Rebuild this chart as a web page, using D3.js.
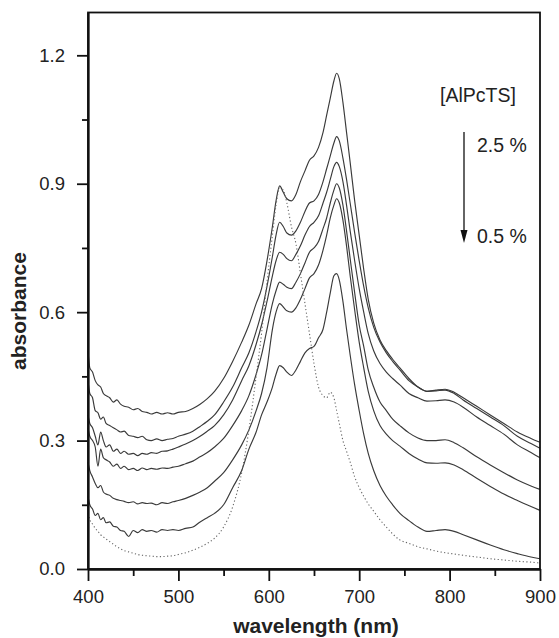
<!DOCTYPE html>
<html>
<head>
<meta charset="utf-8">
<script src="https://cdnjs.cloudflare.com/ajax/libs/d3/7.8.5/d3.min.js"></script>
<style>
  body { margin: 0; background: #fff; }
  #chart { width: 559px; height: 638px; }
  text { font-family: "Liberation Sans", Arial, sans-serif; fill: #222; }
</style>
</head>
<body>
<div id="chart"></div>
<script>
// wavelength grid (nm), shared by all spectra
var wavelength = [400,402,405,408,411,414,417,420,424,428,432,436,440,445,450,455,460,465,470,476,482,488,494,500,
  508,516,524,532,540,550,560,570,578,586,592,598,604,608,612,616,620,625,630,635,640,645,650,655,660,
  664,668,672,675,678,682,686,690,695,700,705,710,716,723,730,737,745,755,765,775,785,795,805,815,830,
  845,860,875,890,900];

// absorbance, [AlPcTS] from 2.5 % down to 0.5 %
var abs25 = [0.51,0.47,0.46,0.44,0.43,0.425,0.41,0.405,0.40,0.39,0.395,0.385,0.38,0.378,0.372,0.375,0.368,0.366,0.362,0.366,0.362,0.365,0.362,0.366,
  0.368,0.375,0.385,0.398,0.415,0.445,0.485,0.53,0.57,0.62,0.655,0.72,0.80,0.86,0.895,0.88,0.865,0.86,0.875,0.905,0.93,0.955,0.965,0.985,1.02,
  1.06,1.10,1.14,1.158,1.145,1.09,1.02,0.95,0.86,0.78,0.70,0.63,0.575,0.535,0.51,0.49,0.47,0.445,0.425,0.415,0.418,0.42,0.413,0.40,0.38,
  0.36,0.34,0.32,0.305,0.296];
var abs20 = [0.44,0.41,0.40,0.37,0.365,0.35,0.355,0.34,0.335,0.33,0.325,0.32,0.322,0.312,0.31,0.307,0.31,0.302,0.30,0.304,0.30,0.303,0.305,0.31,
  0.315,0.322,0.333,0.345,0.36,0.39,0.425,0.47,0.505,0.555,0.60,0.66,0.73,0.78,0.81,0.80,0.785,0.78,0.79,0.81,0.835,0.855,0.86,0.875,0.905,
  0.935,0.965,0.995,1.01,1.0,0.96,0.91,0.855,0.785,0.72,0.66,0.61,0.565,0.53,0.505,0.485,0.465,0.44,0.425,0.415,0.416,0.418,0.41,0.395,0.375,
  0.355,0.335,0.31,0.293,0.282];
var abs15 = [0.36,0.34,0.33,0.31,0.29,0.32,0.30,0.285,0.29,0.275,0.28,0.27,0.275,0.268,0.27,0.265,0.27,0.268,0.272,0.27,0.275,0.276,0.28,0.285,
  0.292,0.30,0.31,0.322,0.335,0.36,0.395,0.44,0.475,0.525,0.57,0.625,0.685,0.72,0.74,0.735,0.725,0.72,0.735,0.755,0.78,0.80,0.81,0.825,0.855,
  0.88,0.91,0.94,0.95,0.94,0.905,0.85,0.79,0.72,0.655,0.60,0.55,0.51,0.48,0.46,0.445,0.43,0.41,0.40,0.392,0.393,0.395,0.39,0.378,0.355,
  0.335,0.315,0.29,0.272,0.26];
var abs12 = [0.33,0.31,0.30,0.285,0.24,0.28,0.26,0.255,0.25,0.24,0.245,0.235,0.24,0.232,0.235,0.23,0.236,0.232,0.235,0.233,0.236,0.235,0.238,0.24,
  0.246,0.252,0.262,0.272,0.285,0.305,0.335,0.37,0.405,0.455,0.50,0.56,0.62,0.65,0.67,0.665,0.658,0.655,0.67,0.69,0.715,0.74,0.75,0.765,0.795,
  0.82,0.855,0.885,0.90,0.89,0.85,0.79,0.725,0.645,0.57,0.52,0.465,0.425,0.39,0.37,0.35,0.335,0.318,0.306,0.30,0.30,0.302,0.295,0.283,0.262,
  0.243,0.225,0.208,0.194,0.186];
var abs08 = [0.25,0.23,0.215,0.20,0.19,0.195,0.18,0.175,0.172,0.165,0.162,0.16,0.158,0.155,0.157,0.152,0.155,0.153,0.154,0.15,0.155,0.153,0.157,0.16,
  0.165,0.172,0.18,0.19,0.205,0.225,0.255,0.29,0.325,0.37,0.41,0.47,0.56,0.60,0.62,0.612,0.603,0.60,0.61,0.63,0.655,0.68,0.69,0.71,0.745,
  0.78,0.82,0.85,0.865,0.855,0.815,0.755,0.685,0.605,0.53,0.47,0.415,0.37,0.335,0.315,0.30,0.287,0.27,0.257,0.248,0.247,0.248,0.243,0.232,0.212,
  0.193,0.175,0.16,0.146,0.137];
var abs05 = [0.17,0.15,0.14,0.125,0.13,0.115,0.12,0.108,0.11,0.10,0.098,0.09,0.088,0.076,0.09,0.085,0.092,0.088,0.09,0.086,0.092,0.09,0.092,0.09,
  0.095,0.098,0.11,0.12,0.13,0.15,0.19,0.23,0.28,0.32,0.36,0.39,0.425,0.455,0.475,0.47,0.46,0.452,0.465,0.485,0.505,0.515,0.52,0.54,0.56,
  0.60,0.645,0.685,0.69,0.675,0.625,0.56,0.50,0.43,0.37,0.315,0.27,0.23,0.195,0.17,0.15,0.13,0.113,0.098,0.088,0.09,0.092,0.088,0.08,0.068,
  0.056,0.045,0.036,0.028,0.024];
// dotted reference spectrum
var absRef = [0.13,0.115,0.105,0.095,0.088,0.08,0.075,0.07,0.064,0.058,0.052,0.047,0.043,0.04,0.037,0.034,0.032,0.031,0.03,0.029,0.029,0.03,0.031,0.034,
  0.038,0.044,0.051,0.06,0.072,0.098,0.145,0.225,0.325,0.45,0.55,0.67,0.78,0.85,0.89,0.885,0.855,0.80,0.76,0.69,0.62,0.55,0.48,0.425,0.405,
  0.40,0.413,0.40,0.37,0.34,0.30,0.275,0.25,0.215,0.19,0.17,0.152,0.135,0.115,0.098,0.082,0.068,0.06,0.052,0.047,0.042,0.038,0.035,0.032,0.028,
  0.024,0.021,0.018,0.016,0.014];

var xMajor = [400, 500, 600, 700, 800, 900];
var xMinor = [450, 550, 650, 750, 850];
var yMajor = [0.0, 0.3, 0.6, 0.9, 1.2];
var yMinor = [0.15, 0.45, 0.75, 1.05];
var legendTitle = '[AlPcTS]';
var legendHigh = '2.5 %';
var legendLow = '0.5 %';

var width = 559, height = 638;
var margin = { top: 12, right: 18, bottom: 69, left: 88 };

var svg = d3.select('#chart')
  .append('svg')
  .attr('width', width)
  .attr('height', height);

var x = d3.scaleLinear().domain([400, 900]).range([margin.left, width - margin.right - 1]);
var y = d3.scaleLinear().domain([0, 1.3]).range([height - margin.bottom, margin.top + 0.5]);

// spectra
var line = d3.line()
  .x(function(d) { return x(d[0]); })
  .y(function(d) { return y(d[1]); })
  .curve(d3.curveMonotoneX);

var solid = [abs25, abs20, abs15, abs12, abs08, abs05];
solid.forEach(function(s) {
  svg.append('path')
    .datum(d3.zip(wavelength, s))
    .attr('d', line)
    .attr('fill', 'none')
    .attr('stroke', '#3a3a3a')
    .attr('stroke-width', 1.15);
});

svg.append('path')
  .datum(d3.zip(wavelength, absRef))
  .attr('d', line)
  .attr('fill', 'none')
  .attr('stroke', '#666')
  .attr('stroke-width', 1.1)
  .attr('stroke-dasharray', '1.2,2.4');

// frame
svg.append('rect')
  .attr('x', x(400))
  .attr('y', y(1.3))
  .attr('width', x(900) - x(400))
  .attr('height', y(0) - y(1.3))
  .attr('fill', 'none')
  .attr('stroke', '#111')
  .attr('stroke-width', 1.8);

// axes
var xAxis = svg.append('g')
  .attr('transform', 'translate(0,' + y(0) + ')')
  .call(d3.axisBottom(x).tickValues(xMajor).tickSize(12).tickSizeOuter(0).tickPadding(8).tickFormat(d3.format('d')));
var xAxisMinor = svg.append('g')
  .attr('transform', 'translate(0,' + y(0) + ')')
  .call(d3.axisBottom(x).tickValues(xMinor).tickSize(7).tickSizeOuter(0).tickFormat(''));

var yAxis = svg.append('g')
  .attr('transform', 'translate(' + x(400) + ',0)')
  .call(d3.axisLeft(y).tickValues(yMajor).tickSize(11).tickSizeOuter(0).tickPadding(12).tickFormat(d3.format('.1f')));
var yAxisMinor = svg.append('g')
  .attr('transform', 'translate(' + x(400) + ',0)')
  .call(d3.axisLeft(y).tickValues(yMinor).tickSize(6).tickSizeOuter(0).tickFormat(''));

svg.selectAll('.domain').attr('stroke', '#111').attr('stroke-width', 1.8);
svg.selectAll('.tick line').attr('stroke', '#111').attr('stroke-width', 1.8);
svg.selectAll('.tick text')
  .attr('font-family', '"Liberation Sans", Arial, sans-serif')
  .attr('font-size', 18.5)
  .attr('fill', '#222');
xAxis.selectAll('.tick text').attr('dy', '0.75em');

// axis titles
svg.append('text')
  .attr('x', 316)
  .attr('y', 633)
  .attr('text-anchor', 'middle')
  .attr('font-size', 21)
  .attr('font-weight', 'bold')
  .text('wavelength (nm)');

svg.append('text')
  .attr('transform', 'translate(26,311) rotate(-90)')
  .attr('text-anchor', 'middle')
  .attr('font-size', 21)
  .attr('font-weight', 'bold')
  .text('absorbance');

// concentration annotation
svg.append('text')
  .attr('x', 440).attr('y', 102)
  .attr('font-size', 19.5)
  .text(legendTitle);
svg.append('text')
  .attr('x', 477).attr('y', 152)
  .attr('font-size', 19.5)
  .text(legendHigh);
svg.append('text')
  .attr('x', 477).attr('y', 243)
  .attr('font-size', 19.5)
  .text(legendLow);

svg.append('line')
  .attr('x1', 464).attr('y1', 132)
  .attr('x2', 464).attr('y2', 234)
  .attr('stroke', '#111')
  .attr('stroke-width', 1.3);
svg.append('path')
  .attr('d', 'M460.5,230 L467.5,230 L464,243 Z')
  .attr('fill', '#111');
</script>
</body>
</html>
